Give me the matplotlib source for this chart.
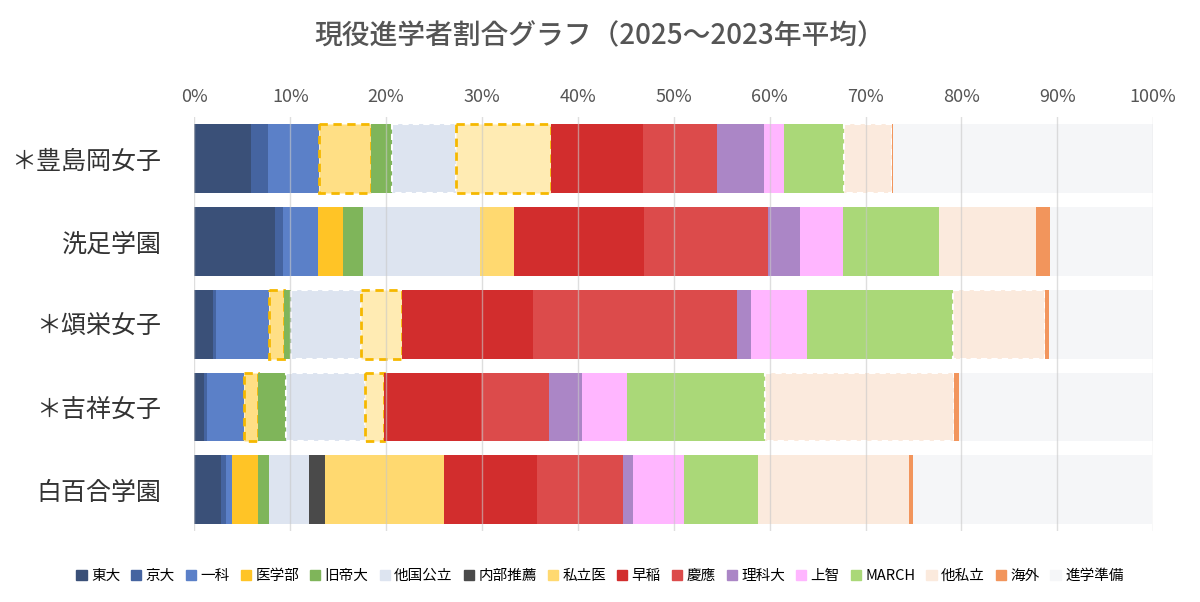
import matplotlib.pyplot as plt
import numpy as np

plt.rcParams['font.family'] = ['Noto Sans CJK JP', 'DejaVu Sans']

schools = ["＊豊島岡女子", "洗足学園", "＊頌栄女子", "＊吉祥女子", "白百合学園"]
series = ["東大", "京大", "一科", "医学部", "旧帝大", "他国公立", "内部推薦", "私立医",
          "早稲", "慶應", "理科大", "上智", "MARCH", "他私立", "海外", "進学準備"]
colors = ["#3a5078", "#4564a0", "#5b80c8", "#ffc426", "#7fb55a", "#dde4f0", "#4a4a4a", "#ffd970",
          "#d22d2d", "#dc4b4b", "#ab86c6", "#ffb6ff", "#aad878", "#fbeadd", "#f2955c", "#f5f6f8"]

values = {
    "＊豊島岡女子": [5.9, 1.75, 5.3, 5.5, 2.15, 6.7, 0, 9.9, 9.6, 7.7, 4.9, 2.1, 6.2, 5.05, 0.15, 27.1],
    "洗足学園":     [8.4, 0.8, 3.65, 2.6, 2.1, 12.2, 0, 3.6, 13.5, 12.95, 3.4, 4.45, 10.0, 10.1, 1.5, 10.75],
    "＊頌栄女子":   [1.9, 0.35, 5.55, 1.55, 0.75, 7.3, 0, 4.3, 13.6, 21.3, 1.5, 5.8, 15.2, 9.6, 0.4, 10.9],
    "＊吉祥女子":   [1.0, 0.3, 3.9, 1.4, 3.0, 8.2, 0, 2.0, 10.1, 7.1, 3.4, 4.7, 14.45, 19.7, 0.45, 20.3],
    "白百合学園":   [2.8, 0.5, 0.65, 2.65, 1.15, 4.25, 1.65, 12.35, 9.7, 9.05, 1.0, 5.3, 7.7, 15.8, 0.35, 25.0],
}
# segments drawn lighter with a dashed outline (estimated values)
dashed = {
    "＊豊島岡女子": ["医学部", "他国公立", "私立医", "他私立"],
    "＊頌栄女子": ["医学部", "他国公立", "私立医", "他私立"],
    "＊吉祥女子": ["医学部", "他国公立", "私立医", "他私立"],
}
light = {"医学部": "#ffdf85", "私立医": "#ffebb3"}

fig, ax = plt.subplots(figsize=(12, 6.02), dpi=100)
fig.subplots_adjust(left=0.162, right=0.961, top=0.805, bottom=0.118)

y = np.arange(len(schools))
left = np.zeros(len(schools))
handles = []
for j, name in enumerate(series):
    vals = np.array([values[s][j] for s in schools])
    for i, s in enumerate(schools):
        if vals[i] <= 0:
            continue
        is_d = name in dashed.get(s, [])
        fc = light.get(name, colors[j]) if is_d else colors[j]
        if is_d and name in light:
            ec, ls, lw = "#f5b800", (0, (3, 2)), 2.0
        elif is_d:
            ec, ls, lw = "#ffffff", (0, (3, 2)), 1.5
        else:
            ec, ls, lw = "none", "-", 0
        ax.barh(y[i], vals[i], left=left[i], height=0.83, color=fc,
                edgecolor=ec, linestyle=ls, linewidth=lw, zorder=2)
    handles.append(plt.Rectangle((0, 0), 1, 1, color=colors[j]))
    left += vals

ax.set_xlim(0, 100)
ax.set_ylim(len(schools) - 0.5, -0.5)
ax.set_yticks(y)
ax.set_yticklabels(schools, fontsize=18, color="#333333")
ax.xaxis.tick_top()
ax.set_xticks(np.arange(0, 101, 10))
ax.set_xticklabels([f"{t}%" for t in range(0, 101, 10)], fontsize=13, color="#555555")
ax.tick_params(axis="x", length=0, pad=8)
ax.tick_params(axis="y", length=0, pad=24)
ax.grid(axis="x", color="#c8c8c8", linewidth=1, alpha=0.6, zorder=3)
ax.set_axisbelow(False)
for sp in ax.spines.values():
    sp.set_visible(False)

fig.suptitle("現役進学者割合グラフ（2025〜2023年平均）", fontsize=20, color="#555555",
             x=0.5, y=0.965, fontweight="medium")
fig.legend(handles, series, loc="lower center", ncol=16, frameon=False, fontsize=10.5,
           handlelength=0.7, handleheight=0.7, handletextpad=0.3, columnspacing=0.75,
           bbox_to_anchor=(0.5, 0.01))

fig.savefig("out.png", dpi=100)
